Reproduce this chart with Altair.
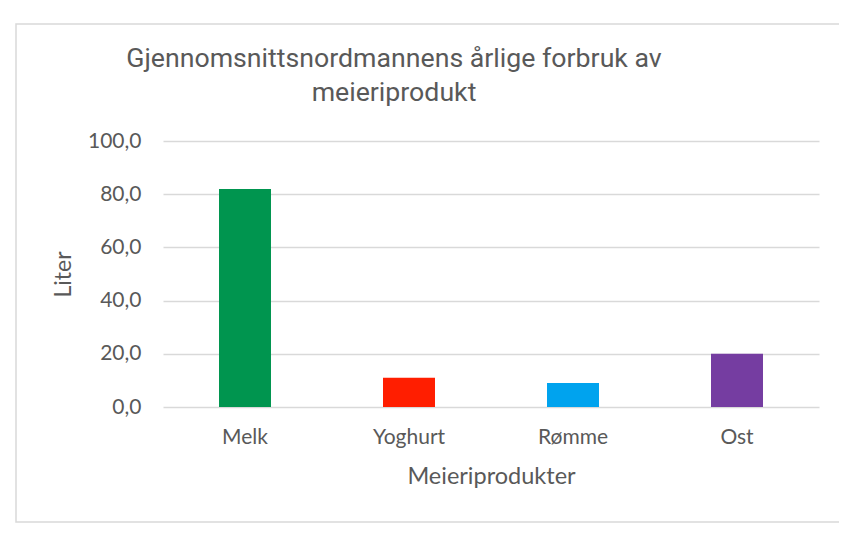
import altair as alt
import pandas as pd

categories = ["Melk", "Yoghurt", "Rømme", "Ost"]
values = [82.0, 11.0, 9.0, 20.0]
colors = ["#00954F", "#FF1E00", "#00A3EE", "#753DA1"]
y_ticks = [0, 20, 40, 60, 80, 100]
title_lines = ["Gjennomsnittsnordmannens årlige forbruk av", "meieriprodukt"]

df = pd.DataFrame({"produkt": categories, "liter": values})
title_df = pd.DataFrame({"t": [0]})

W, H = 656, 266

bars = alt.Chart(df).mark_bar().encode(
    x=alt.X(
        "produkt:N",
        sort=categories,
        scale=alt.Scale(paddingInner=0.683, paddingOuter=0.3415),
        axis=alt.Axis(
            title="Meieriprodukter",
            labelAngle=0,
            labelFont="Lato",
            labelFontSize=21,
            labelColor="#595959",
            labelPadding=19,
            ticks=False,
            domain=False,
            titleFont="Lato",
            titleFontSize=23.5,
            titleFontWeight="normal",
            titleColor="#595959",
            titlePadding=17,
        ),
    ),
    y=alt.Y(
        "liter:Q",
        scale=alt.Scale(domain=[0, 100]),
        axis=alt.Axis(
            title="Liter",
            values=y_ticks,
            labelExpr="replace(format(datum.value, '.1f'), '.', ',')",
            labelFont="Lato",
            labelFontSize=21,
            labelColor="#595959",
            labelPadding=22,
            ticks=False,
            domain=False,
            grid=True,
            gridColor="#D9D9D9",
            gridWidth=1.3,
            titleFont="Lato",
            titleFontSize=23,
            titleFontWeight="normal",
            titleColor="#595959",
            titlePadding=12,
        ),
    ),
    color=alt.Color(
        "produkt:N",
        scale=alt.Scale(domain=categories, range=colors),
        legend=None,
    ),
)

border = alt.Chart(title_df).mark_rect(
    fill=None, stroke="#D9D9D9", strokeWidth=1.5
).encode(
    x=alt.value(-147), x2=alt.value(684), y=alt.value(-117), y2=alt.value(381)
)

title = alt.Chart(title_df).mark_text(
    text=title_lines,
    font="Roboto",
    fontSize=26.7,
    color="#595959",
    align="center",
    baseline="alphabetic",
    lineHeight=34,
).encode(x=alt.value(231), y=alt.value(-74))

chart = alt.layer(border, bars, title).properties(
    width=W,
    height=H,
    autosize=alt.AutoSizeParams(type="none"),
    padding={"left": 155, "top": 133, "right": 20, "bottom": 120},
).configure(background="white", view=alt.ViewConfig(stroke=None))

chart.save("out.html", embed_options={"renderer": "svg", "actions": False})
